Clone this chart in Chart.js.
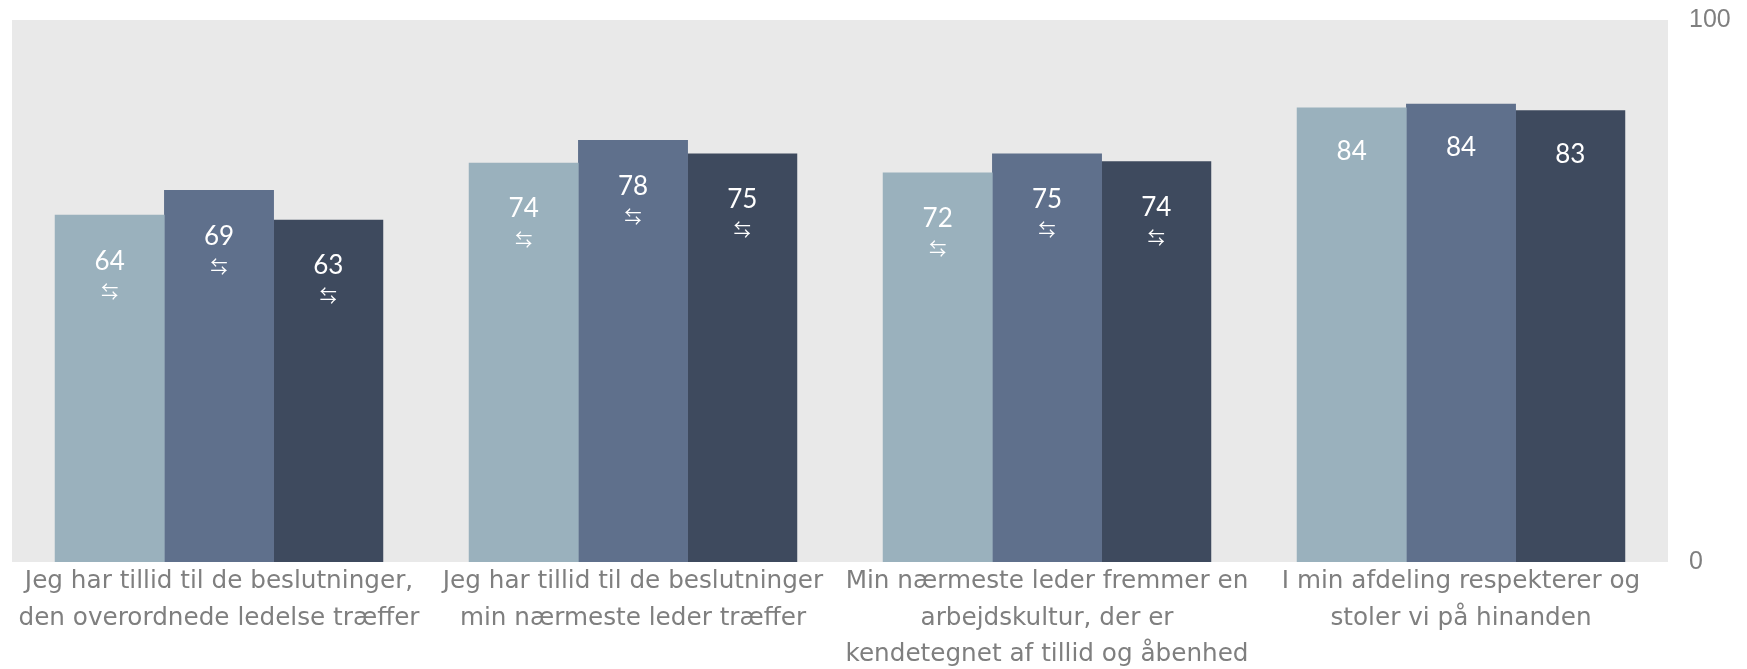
<!DOCTYPE html>
<html>
<head>
<meta charset="utf-8">
<script src="https://cdn.jsdelivr.net/npm/chart.js@4"></script>
<style>
html, body { margin: 0; padding: 0; background: #fff; }
canvas { display: block; }
</style>
</head>
<body>
<canvas id="barChart" width="1747" height="669"></canvas>
<script>
const categories = [
    ['Jeg har tillid til de beslutninger,', 'den overordnede ledelse træffer'],
    ['Jeg har tillid til de beslutninger', 'min nærmeste leder træffer'],
    ['Min nærmeste leder fremmer en', 'arbejdskultur, der er', 'kendetegnet af tillid og åbenhed'],
    ['I min afdeling respekterer og', 'stoler vi på hinanden']
];
const series1 = [64, 73.6, 71.8, 83.8];
const series2 = [68.6, 77.8, 75.3, 84.5];
const series3 = [63.1, 75.3, 73.9, 83.3];
const labels1 = ['64', '74', '72', '84'];
const labels2 = ['69', '78', '75', '84'];
const labels3 = ['63', '75', '74', '83'];
const arrows = ['⇆', '⇆', '⇆', ''];
const yTicks = [0, 100];

const barLabels = [labels1, labels2, labels3];

const plotBackground = {
    id: 'plotBackground',
    beforeDraw(chart) {
        const a = chart.chartArea;
        chart.ctx.save();
        chart.ctx.fillStyle = '#e9e9e9';
        chart.ctx.fillRect(a.left, a.top, a.right - a.left, a.bottom - a.top);
        chart.ctx.restore();
    }
};

// value and arrow sit inside the top of each bar
const insideLabels = {
    id: 'insideLabels',
    afterDatasetsDraw(chart) {
        const ctx = chart.ctx;
        ctx.save();
        ctx.fillStyle = '#ffffff';
        ctx.textAlign = 'center';
        ctx.textBaseline = 'middle';
        chart.data.datasets.forEach((ds, i) => {
            chart.getDatasetMeta(i).data.forEach((bar, j) => {
                const hasArrow = arrows[j] !== '';
                ctx.font = '26px Lato';
                ctx.fillText(barLabels[i][j], bar.x, bar.y + (hasArrow ? 46 : 44));
                if (hasArrow) {
                    ctx.font = '17px "Noto Sans CJK SC"';
                    ctx.fillText(arrows[j], bar.x, bar.y + 76);
                }
            });
        });
        ctx.restore();
    }
};

new Chart(document.getElementById('barChart'), {
    type: 'bar',
    data: {
        labels: categories,
        datasets: [
            { data: series1, backgroundColor: '#9ab1bd', inflateAmount: 0.3 },
            { data: series2, backgroundColor: '#5f708c', inflateAmount: 0.3 },
            { data: series3, backgroundColor: '#3e4a5e', inflateAmount: 0.3 }
        ]
    },
    options: {
        responsive: false,
        animation: false,
        categoryPercentage: 0.792,
        barPercentage: 1,
        layout: { padding: { top: 20, left: 12, right: 0, bottom: 0 } },
        plugins: { legend: { display: false }, tooltip: { enabled: false } },
        scales: {
            x: {
                grid: { display: false, drawTicks: false },
                border: { display: false },
                afterFit(scale) { scale.height = 107; },
                ticks: {
                    color: '#7f7f7f',
                    maxRotation: 0,
                    autoSkip: false,
                    padding: 2,
                    font: { family: '"DejaVu Sans"', size: 24.7, lineHeight: 1.46 }
                }
            },
            y: {
                position: 'right',
                min: 0,
                max: 100,
                grid: { display: false, drawTicks: false },
                border: { display: false },
                afterFit(scale) {
                    scale.width = 79;
                    scale.paddingTop = 0;
                    scale.paddingBottom = 0;
                },
                afterBuildTicks(scale) { scale.ticks = yTicks.map(v => ({ value: v })); },
                ticks: {
                    color: '#7f7f7f',
                    padding: 21,
                    font: { family: '"Liberation Sans"', size: 25 }
                }
            }
        }
    },
    plugins: [plotBackground, insideLabels]
});
</script>
</body>
</html>
